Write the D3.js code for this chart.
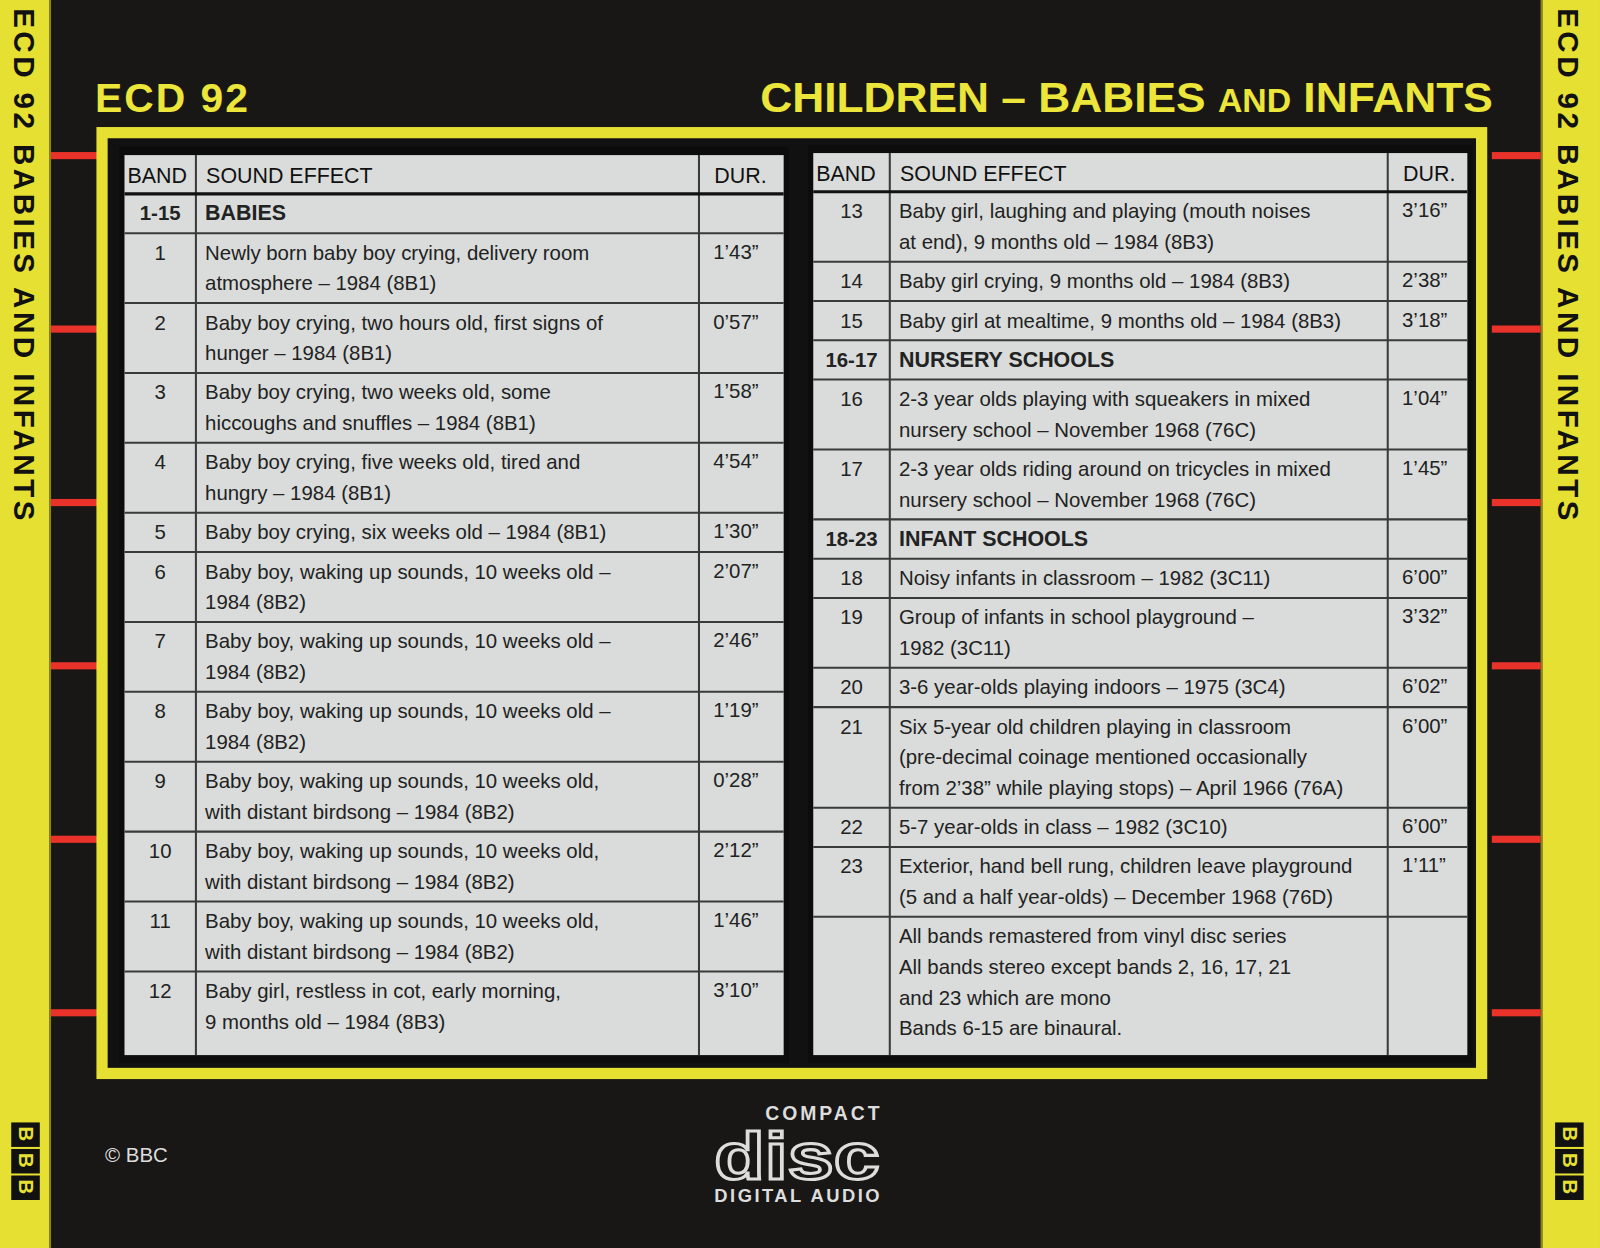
<!DOCTYPE html>
<html><head><meta charset="utf-8">
<script src="https://cdn.jsdelivr.net/npm/d3@7"></script>
<style>body{margin:0;background:#151412;overflow:hidden}</style>
</head><body><svg id="c" width="1600" height="1248"></svg>
<script>
const leftBands=["1-15","1","2","3","4","5","6","7","8","9","10","11","12"];
const leftEffects=[["BABIES"],
["Newly born baby boy crying, delivery room","atmosphere – 1984 (8B1)"],
["Baby boy crying, two hours old, first signs of","hunger – 1984 (8B1)"],
["Baby boy crying, two weeks old, some","hiccoughs and snuffles – 1984 (8B1)"],
["Baby boy crying, five weeks old, tired and","hungry – 1984 (8B1)"],
["Baby boy crying, six weeks old – 1984 (8B1)"],
["Baby boy, waking up sounds, 10 weeks old –","1984 (8B2)"],
["Baby boy, waking up sounds, 10 weeks old –","1984 (8B2)"],
["Baby boy, waking up sounds, 10 weeks old –","1984 (8B2)"],
["Baby boy, waking up sounds, 10 weeks old,","with distant birdsong – 1984 (8B2)"],
["Baby boy, waking up sounds, 10 weeks old,","with distant birdsong – 1984 (8B2)"],
["Baby boy, waking up sounds, 10 weeks old,","with distant birdsong – 1984 (8B2)"],
["Baby girl, restless in cot, early morning,","9 months old – 1984 (8B3)"]];
const leftDur=["","1’43”","0’57”","1’58”","4’54”","1’30”","2’07”","2’46”","1’19”","0’28”","2’12”","1’46”","3’10”"];
const rightBands=["13","14","15","16-17","16","17","18-23","18","19","20","21","22","23",""];
const rightEffects=[
["Baby girl, laughing and playing (mouth noises","at end), 9 months  old – 1984 (8B3)"],
["Baby girl crying, 9 months old – 1984 (8B3)"],
["Baby girl at mealtime, 9 months old – 1984 (8B3)"],
["NURSERY SCHOOLS"],
["2-3 year olds playing with squeakers in mixed","nursery school – November 1968 (76C)"],
["2-3 year olds riding around on tricycles in mixed","nursery school  – November 1968 (76C)"],
["INFANT SCHOOLS"],
["Noisy infants in classroom – 1982 (3C11)"],
["Group of infants in school playground –","1982 (3C11)"],
["3-6 year-olds playing indoors – 1975 (3C4)"],
["Six 5-year old children playing in classroom","(pre-decimal coinage mentioned occasionally","from 2’38” while playing stops) – April 1966 (76A)"],
["5-7 year-olds in class – 1982 (3C10)"],
["Exterior, hand bell rung, children leave playground","(5 and a half year-olds) – December 1968 (76D)"],
["All bands remastered from vinyl disc series","All bands stereo except bands 2, 16, 17, 21","and 23 which are mono","Bands 6-15 are binaural."]];
const rightDur=["3’16”","2’38”","3’18”","","1’04”","1’45”","","6’00”","3’32”","6’02”","6’00”","6’00”","1’11”",""];
const spineMarks=[152,322,492,652,822,992];

const svg=d3.select("#c");
const g=svg.append("g").attr("transform","scale(1.0204)");
const F="Liberation Sans, Arial, sans-serif";
g.append("rect").attr("width",1568).attr("height",1224).attr("fill","#181715");
[[0,50],[1510,58]].forEach(([x,w])=>{
  g.append("rect").attr("x",x).attr("y",0).attr("width",w).attr("height",1224).attr("fill","#e6e033");
});
g.append("rect").attr("x",48).attr("y",0).attr("width",2).attr("height",1224).attr("fill","#8a8420");
g.append("rect").attr("x",1510).attr("y",0).attr("width",2).attr("height",1224).attr("fill","#8a8420");
spineMarks.forEach(y=>{
  g.append("rect").attr("x",50).attr("y",y-3).attr("width",45).attr("height",7).attr("fill","#e8322a");
  g.append("rect").attr("x",1462).attr("y",y-3).attr("width",48).attr("height",7).attr("fill","#e8322a");
});
[[25],[1538]].forEach(([cx])=>{
  g.append("text").attr("transform",`translate(${cx-11},8) rotate(90)`).attr("font-family",F)
   .attr("font-weight","bold").attr("font-size",29).attr("fill","#111").attr("textLength",502).attr("lengthAdjust","spacing")
   .text("ECD 92  BABIES AND INFANTS");
  const bb=g.append("g").attr("transform",`translate(${cx-14},1100)`);
  [0,26,52].forEach((dy,i)=>{
    bb.append("rect").attr("x",0).attr("y",dy).attr("width",28).attr("height",24).attr("fill","#111");
    bb.append("text").attr("transform",`translate(8,${dy+4}) rotate(90)`).attr("font-family",F).attr("font-weight","bold")
      .attr("font-size",20).attr("fill","#e6e033").text("B");
  });
});
g.append("text").attr("x",93).attr("y",110).attr("font-family",F).attr("font-weight","bold").attr("font-size",40).attr("fill","#ece53a").attr("textLength",150).text("ECD 92");
const t=g.append("text").attr("x",1463).attr("y",110).attr("text-anchor","end").attr("font-family",F).attr("font-weight","bold").attr("font-size",42).attr("fill","#ece53a").attr("textLength",718).attr("lengthAdjust","spacingAndGlyphs");
t.append("tspan").text("CHILDREN – BABIES ");
t.append("tspan").attr("font-size",32).text("AND");
t.append("tspan").text(" INFANTS");
g.append("rect").attr("x",100).attr("y",130).attr("width",1352).attr("height",922).attr("fill","#111").attr("stroke","#e6e033").attr("stroke-width",11);

function table(x0,x1,yTop,cols,bands,effects,durs,sections){
  g.append("rect").attr("x",x0-5).attr("y",yTop-8).attr("width",x1-x0+10).attr("height",1040-yTop+8+2).attr("fill","#0c0c0c");
  const h=d3.scaleLinear().domain([1,2]).range([38.5,68.5]);
  const rows=effects.map((e,i)=>({band:bands[i],eff:e,dur:durs[i],h:h(e.length),sec:sections.includes(i)}));
  let y=yTop+38; rows.forEach(r=>{r.y=y;y+=r.h;});
  const bottom=1034;
  rows[rows.length-1].h=bottom-rows[rows.length-1].y;
  g.append("rect").attr("x",x0).attr("y",yTop).attr("width",x1-x0).attr("height",bottom-yTop).attr("fill","#d9dcda");
  const lc="#3a3a3a";
  [cols[0],cols[1]].forEach(cx=>g.append("line").attr("x1",cx).attr("x2",cx).attr("y1",yTop).attr("y2",bottom).attr("stroke",lc).attr("stroke-width",2));
  g.append("line").attr("x1",x0).attr("x2",x1).attr("y1",yTop+38).attr("y2",yTop+38).attr("stroke","#111").attr("stroke-width",3);
  rows.forEach((r,i)=>{ if(i<rows.length-1) g.append("line").attr("x1",x0).attr("x2",x1).attr("y1",r.y+r.h).attr("y2",r.y+r.h).attr("stroke",lc).attr("stroke-width",2);});
  const hd=[["BAND",x0+3],["SOUND EFFECT",cols[0]+10],["DUR.",cols[1]+15]];
  hd.forEach(([s,x])=>g.append("text").attr("x",x).attr("y",yTop+27).attr("font-family",F).attr("font-size",21).attr("fill","#111").text(s));
  rows.forEach(r=>{
    g.append("text").attr("x",(x0+cols[0])/2).attr("y",r.y+26).attr("text-anchor","middle").attr("font-family",F)
      .attr("font-size",20).attr("font-weight",r.sec?"bold":"normal").attr("fill","#222").text(r.band);
    r.eff.forEach((l,k)=>g.append("text").attr("x",cols[0]+9).attr("y",r.y+26+k*30).attr("font-family",F)
      .attr("font-size",r.sec?21:20).attr("font-weight",r.sec?"bold":"normal").attr("fill","#222").text(l));
    g.append("text").attr("x",cols[1]+14).attr("y",r.y+25).attr("font-family",F).attr("font-size",20).attr("fill","#222").text(r.dur);
  });
}
table(122,768,152,[192,685],leftBands,leftEffects,leftDur,[0]);
table(797,1438,150,[872,1360],rightBands,rightEffects,rightDur,[3,6]);

g.append("text").attr("x",103).attr("y",1139).attr("font-family",F).attr("font-size",20).attr("fill","#ddd").text("© BBC");
const cd=g.append("g").attr("transform","translate(700,1080)");
cd.append("text").attr("x",50).attr("y",18).attr("font-family",F).attr("font-weight","bold").attr("font-size",19).attr("fill","#ddd").attr("textLength",112).text("COMPACT");
cd.append("text").attr("x",0).attr("y",75).attr("font-family",F).attr("font-weight","bold").attr("font-size",66).attr("fill","none").attr("stroke","#ddd").attr("stroke-width",3).attr("textLength",162).attr("lengthAdjust","spacingAndGlyphs").text("disc");
cd.append("text").attr("x",0).attr("y",98).attr("font-family",F).attr("font-weight","bold").attr("font-size",18).attr("fill","#ddd").attr("textLength",162).text("DIGITAL AUDIO");
</script></body></html>
